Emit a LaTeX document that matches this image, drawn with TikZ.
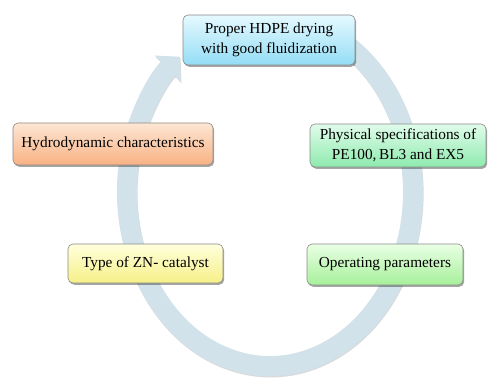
\documentclass[tikz,border=0pt]{standalone}
\usepackage{fontspec}
\setmainfont{Liberation Serif}
\usetikzlibrary{arrows.meta,shadows}
\definecolor{bandc}{HTML}{D2E2EA}
\definecolor{bandsh}{HTML}{A7B1B6}
\definecolor{boxline}{HTML}{8A8A8A}
\definecolor{blueT}{HTML}{E6F9FF}
\definecolor{blueB}{HTML}{93DDF5}
\definecolor{orangeT}{HTML}{FDE6D4}
\definecolor{orangeB}{HTML}{F8B283}
\definecolor{mintT}{HTML}{E0FCEA}
\definecolor{mintB}{HTML}{8EEAAE}
\definecolor{yellowT}{HTML}{FFFFDC}
\definecolor{yellowB}{HTML}{F6F088}
\definecolor{greenT}{HTML}{E9FFE4}
\definecolor{greenB}{HTML}{A6F09A}
\begin{document}
\begin{tikzpicture}[x=1pt,y=1pt,
  box/.style={rectangle, rounded corners=5pt, draw=boxline, line width=0.6pt,
    inner sep=0pt, align=center, text=black,
    font=\fontsize{15.3}{20}\selectfont,
    drop shadow={shadow xshift=1.2pt, shadow yshift=-1.8pt, opacity=0.35, fill=black}},
  bandline/.style={line width=20pt, -{Triangle[length=17pt,width=36pt]}}]
\useasboundingbox (0,0) rectangle (489,378);
\fill[white] (0,0) rectangle (489,378);
% cycle arrow
\coordinate (C) at (270,186);
\coordinate (Cs) at (270.6,184.6);
\draw[bandline, bandsh, opacity=0.45] ([shift={(70:143pt and 174pt)}]Cs)
  arc[start angle=70, end angle=-231, x radius=143pt, y radius=174pt];
\draw[bandline, bandc] ([shift={(70:143pt and 174pt)}]C)
  arc[start angle=70, end angle=-231, x radius=143pt, y radius=174pt];
% boxes
\node[box, top color=blueT, bottom color=blueB, minimum width=172pt, minimum height=50pt]
  (top) at (269,338) {Proper HDPE drying\\with good fluidization};
\node[box, top color=orangeT, bottom color=orangeB, minimum width=200pt, minimum height=42pt]
  (hydro) at (113,234) {Hydrodynamic characteristics};
\node[box, top color=mintT, bottom color=mintB, minimum width=176pt, minimum height=43pt]
  (phys) at (398,232.5) {Physical specifications of\\PE100,\,BL3 and EX5};
\node[box, top color=yellowT, bottom color=yellowB, minimum width=155pt, minimum height=39pt]
  (type) at (145.5,114.5) {Type of ZN- catalyst};
\node[box, top color=greenT, bottom color=greenB, minimum width=156pt, minimum height=41pt]
  (oper) at (385,113.5) {Operating parameters};
\end{tikzpicture}
\end{document}
